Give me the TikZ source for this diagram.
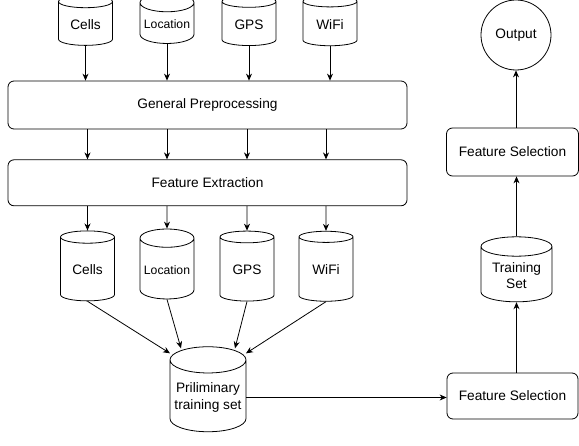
\documentclass[tikz,border=0pt]{standalone}
\usepackage{fontspec}
\setmainfont{Liberation Sans}
\usetikzlibrary{positioning,shapes.geometric,arrows.meta,calc}

\begin{document}
\begin{tikzpicture}[
		  x=1pt,y=-1pt,
		  line width=0.8pt,
		  font=\fontsize{13.7}{16.5}\selectfont,
		  db/.style={draw,cylinder,shape border rotate=90,aspect=0.38,minimum width=54pt,inner sep=1pt,align=center},
		  block/.style={draw,rounded corners=6pt,align=center},
		  small/.style={font=\fontsize{12.2}{14}\selectfont},
		  arr/.style={-{Stealth[length=7pt,width=6pt]}}
		]
		\useasboundingbox (0,0) rectangle (579,446);
		% raw data
		\node[db,minimum height=50pt] (cells1) at (85.5,24.5) {Cells};
		\node[db,minimum height=50pt,small] (loc1) at (167,24.5) {Location};
		\node[db,minimum height=50pt] (gps1) at (249,24.5) {GPS};
		\node[db,minimum height=50pt] (wifi1) at (330,24.5) {WiFi};
		\node[block,minimum width=399pt,minimum height=48pt] (gp) at (207.5,105) {General Preprocessing};
		\node[block,minimum width=399pt,minimum height=46pt,below=30pt of gp] (fe) {Feature Extraction};
		% features
		\node[db,minimum height=70pt] (cells2) at (87.5,270) {Cells};
		\node[db,minimum height=70pt,small] (loc2) at (167,270) {Location};
		\node[db,minimum height=70pt] (gps2) at (247,270) {GPS};
		\node[db,minimum height=70pt] (wifi2) at (326,270) {WiFi};
		\node[db,minimum width=76pt,minimum height=85pt] (pre) at (208,397.5) {Priliminary\\training set};
		% right column
		\node[block,minimum width=131pt,minimum height=46pt] (fs1) at (512.5,396) {Feature Selection};
		\node[db,minimum width=71pt,minimum height=65pt] (ts) at (516.5,275.5) {Training\\Set};
		\node[block,minimum width=132pt,minimum height=48pt] (fs2) at (512.5,152) {Feature Selection};
		\node[draw,circle,minimum size=70pt,inner sep=0pt] (out) at (516,35) {Output};
		\coordinate (inA) at ($(pre.north)+(-38,7)$);
		\coordinate (inB) at ($(pre.north)+(-27,2)$);
		\coordinate (inC) at ($(pre.north)+(27,2)$);
		\coordinate (inD) at ($(pre.north)+(38,7)$);
		\path (cells1.south) edge[arr] (cells1.south |- gp.north)
			(loc1.south) edge[arr] (loc1.south |- gp.north)
			(gps1.south) edge[arr] (gps1.south |- gp.north)
			(wifi1.south) edge[arr] (wifi1.south |- gp.north)
			(gp.south -| cells2) edge[arr] (fe.north -| cells2)
			(gp.south -| loc2) edge[arr] (fe.north -| loc2)
			(gp.south -| gps2) edge[arr] (fe.north -| gps2)
			(gp.south -| wifi2) edge[arr] (fe.north -| wifi2)
			(fe.south -| cells2) edge[arr] (cells2.north)
			(fe.south -| loc2) edge[arr] (loc2.north)
			(fe.south -| gps2) edge[arr] (gps2.north)
			(fe.south -| wifi2) edge[arr] (wifi2.north)
			(cells2.south) edge[arr] (inA)
			(loc2.south) edge[arr] (inB)
			(gps2.south) edge[arr] (inC)
			(wifi2.south) edge[arr] (inD)
			(pre.east) edge[arr] (pre.east -| fs1.west)
			(fs1.north -| ts) edge[arr] (ts.south)
			(ts.north) edge[arr] (ts.north |- fs2.south)
			(fs2.north -| out) edge[arr] (out.south);
		\end{tikzpicture}
\end{document}
